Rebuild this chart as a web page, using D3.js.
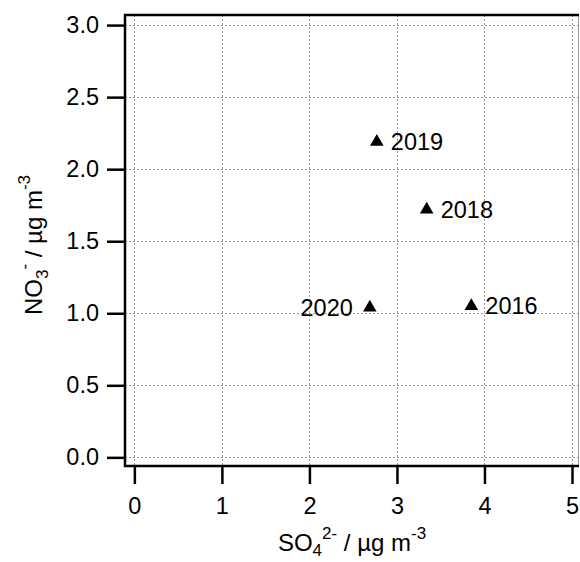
<!DOCTYPE html>
<html>
<head>
<meta charset="utf-8">
<script src="https://cdn.jsdelivr.net/npm/d3@7"></script>
<style>
  body { margin: 0; background: #fff; }
  svg text { font-family: "Liberation Sans", Arial, sans-serif; fill: #000; }
</style>
</head>
<body>
<div id="chart"></div>
<script>
// data
const years = ["2016", "2018", "2019", "2020"];
const so4 = [3.85, 3.34, 2.77, 2.69];
const no3 = [1.05, 1.72, 2.19, 1.04];
const labelSide = ["right", "right", "right", "left"];
const xTicks = [0, 1, 2, 3, 4, 5];
const yTicks = [0, 0.5, 1, 1.5, 2, 2.5, 3];

const width = 580, height = 562;
const margin = { top: 15, right: 1, bottom: 96, left: 125 };

const svg = d3.select("#chart").append("svg")
  .attr("width", width)
  .attr("height", height);

const x = d3.scaleLinear()
  .domain([-0.107, 5.08])
  .range([margin.left, width - margin.right]);

const y = d3.scaleLinear()
  .domain([-0.06, 3.07])
  .range([height - margin.bottom, margin.top]);

// grid
const grid = svg.append("g").attr("stroke", "#9a9a9a").attr("stroke-width", 1)
  .attr("stroke-dasharray", "2,2").attr("shape-rendering", "crispEdges");
grid.selectAll(".gx").data(xTicks).join("line")
  .attr("x1", d => Math.round(x(d)) + 0.5).attr("x2", d => Math.round(x(d)) + 0.5)
  .attr("y1", y.range()[1]).attr("y2", y.range()[0]);
grid.selectAll(".gy").data(yTicks).join("line")
  .attr("y1", d => Math.round(y(d)) + 0.5).attr("y2", d => Math.round(y(d)) + 0.5)
  .attr("x1", x.range()[0]).attr("x2", x.range()[1]);

// frame: right side is a faint gray edge
svg.append("line")
  .attr("x1", x.range()[1] - 0.5).attr("x2", x.range()[1] - 0.5)
  .attr("y1", y.range()[1]).attr("y2", y.range()[0])
  .attr("stroke", "#999").attr("stroke-width", 1);
svg.append("path")
  .attr("d", `M${x.range()[1]},${y.range()[1]}H${x.range()[0]}V${y.range()[0]}H${x.range()[1]}`)
  .attr("fill", "none").attr("stroke", "#000").attr("stroke-width", 2.5);

// axes
const xAxis = svg.append("g")
  .attr("transform", `translate(0,${y.range()[0]})`)
  .call(d3.axisBottom(x).tickValues(xTicks).tickFormat(d3.format("d"))
    .tickSizeInner(18).tickSizeOuter(0).tickPadding(13));
const yAxis = svg.append("g")
  .attr("transform", `translate(${x.range()[0]},0)`)
  .call(d3.axisLeft(y).tickValues(yTicks).tickFormat(d3.format(".1f"))
    .tickSizeInner(18).tickSizeOuter(0).tickPadding(8));
[xAxis, yAxis].forEach(g => {
  g.select(".domain").remove();
  g.selectAll(".tick line").attr("stroke", "#000").attr("stroke-width", 2.5);
  g.selectAll(".tick text").attr("font-size", 23.5).attr("fill", "#000");
});

// points
const pts = years.map((yr, i) => ({ yr, sx: so4[i], ny: no3[i], side: labelSide[i] }));
svg.append("g").selectAll("path").data(pts).join("path")
  .attr("transform", d => `translate(${x(d.sx)},${y(d.ny)})`)
  .attr("d", d3.symbol(d3.symbolTriangle, 80))
  .attr("fill", "#000");
svg.append("g").selectAll("text").data(pts).join("text")
  .attr("x", d => x(d.sx) + (d.side === "right" ? 14 : -17))
  .attr("y", d => y(d.ny) + 8)
  .attr("text-anchor", d => d.side === "right" ? "start" : "end")
  .attr("font-size", 23.5)
  .text(d => d.yr);

// axis titles
const xt = svg.append("text")
  .attr("x", (x.range()[0] + x.range()[1]) / 2)
  .attr("y", 551)
  .attr("text-anchor", "middle")
  .attr("font-size", 24);
xt.append("tspan").text("SO");
xt.append("tspan").attr("font-size", 17).attr("dy", 5).text("4");
xt.append("tspan").attr("font-size", 17).attr("dy", -17).text("2-");
xt.append("tspan").attr("dy", 12).text(" / µg m");
xt.append("tspan").attr("font-size", 17).attr("dy", -12).text("-3");

const yt = svg.append("text")
  .attr("transform", `translate(42,${245}) rotate(-90)`)
  .attr("text-anchor", "middle")
  .attr("font-size", 24);
yt.append("tspan").text("NO");
yt.append("tspan").attr("font-size", 17).attr("dy", 6).text("3");
yt.append("tspan").attr("font-size", 17).attr("dy", -18).text("-");
yt.append("tspan").attr("dy", 12).text(" / µg m");
yt.append("tspan").attr("font-size", 17).attr("dy", -12).text("-3");
</script>
</body>
</html>
